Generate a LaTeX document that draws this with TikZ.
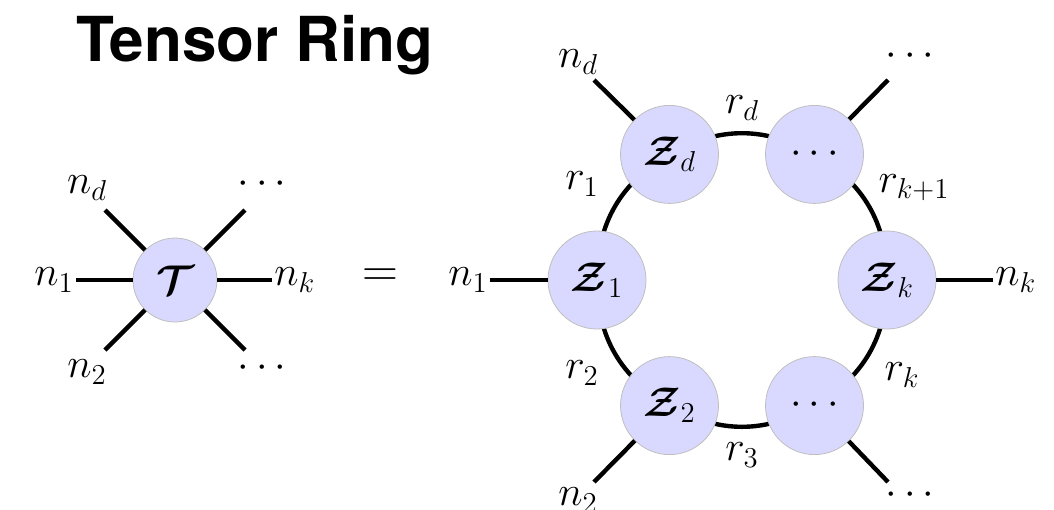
\documentclass[tikz,border=0pt]{standalone}
\usepackage{fontspec}
\usepackage{bm}
\newfontfamily\headfont{TeX Gyre Heros}
\usetikzlibrary{positioning, backgrounds}

\begin{document}
\begin{tikzpicture}[x=0.5pt, y=-0.5pt,
  core/.style={circle, draw=black!25, fill=blue!15, inner sep=0pt,
               minimum size=49pt, font=\fontsize{21}{24}\selectfont},
  bigcore/.style={core, minimum size=42pt},
  leg/.style={line width=2.2pt},
  lab/.style={inner sep=1pt, font=\fontsize{20}{24}\selectfont}
]
\useasboundingbox (0,0) rectangle (1054,509);

\node[font=\headfont\bfseries\fontsize{31}{36}\selectfont] (title) at (255,45) {Tensor Ring};

% left tensor
\node[bigcore] (T) at (175,280) {$\bm{\mathcal{T}}$};
\node[lab, anchor=east] (tn1) at (76,280) {$n_1$};
\node[lab, anchor=west] (tnk) at (272,280) {$n_k$};
\node[lab] (tnd) at (87,188) {$n_d$};
\node[lab] (tn2) at (87,372) {$n_2$};
\node[lab] (tdu) at (262,184) {$\cdots$};
\node[lab] (tdl) at (262,368) {$\cdots$};
\coordinate (tul) at (105,210);
\coordinate (tur) at (245,210);
\coordinate (tll) at (105,350);
\coordinate (tlr) at (245,350);
\draw[leg] (T) -- (tn1);
\draw[leg] (T) -- (tnk);
\draw[leg] (T) -- (tul);
\draw[leg] (T) -- (tur);
\draw[leg] (T) -- (tll);
\draw[leg] (T) -- (tlr);

\node[lab, font=\fontsize{26}{30}\selectfont] (eq) at (380,278) {$=$};

% ring
\node[core] (Z1) at (597,280) {$\bm{\mathcal{Z}}_1$};
\node[core] (Zd) at (669.5,154.4) {$\bm{\mathcal{Z}}_d$};
\node[core] (Zt) at (814.5,154.4) {$\cdots$};
\node[core] (Zk) at (887,280) {$\bm{\mathcal{Z}}_k$};
\node[core] (Zb) at (814.5,405.6) {$\cdots$};
\node[core] (Z2) at (669.5,405.6) {$\bm{\mathcal{Z}}_2$};

\begin{scope}[on background layer]
\draw[leg] (Z1.center) to[bend left=30] (Zd.center);
\draw[leg] (Zd.center) to[bend left=30] (Zt.center);
\draw[leg] (Zt.center) to[bend left=30] (Zk.center);
\draw[leg] (Zk.center) to[bend left=30] (Zb.center);
\draw[leg] (Zb.center) to[bend left=30] (Z2.center);
\draw[leg] (Z2.center) to[bend left=30] (Z1.center);
\end{scope}

\node[lab] (r1) at (582,184) {$r_1$};
\node[lab] (rd) at (742,108) {$r_d$};
\node[lab] (rk1) at (914,188) {$r_{k+1}$};
\node[lab] (rk) at (902,375) {$r_k$};
\node[lab] (r3) at (742,455) {$r_3$};
\node[lab] (r2) at (582,373) {$r_2$};

\node[lab, anchor=east] (n1) at (490,280) {$n_1$};
\node[lab, anchor=west] (nk) at (993,280) {$n_k$};
\node[lab] (nd) at (578,62) {$n_d$};
\node[lab] (n2) at (578,500) {$n_2$};
\node[lab] (du) at (910,56) {$\cdots$};
\node[lab] (dl) at (910,495) {$\cdots$};
\coordinate (zul) at (594,80);
\coordinate (zur) at (888,80);
\coordinate (zll) at (594,482);
\coordinate (zlr) at (888,482);
\draw[leg] (Z1) -- (n1);
\draw[leg] (Zk) -- (nk);
\draw[leg] (Zd) -- (zul);
\draw[leg] (Zt) -- (zur);
\draw[leg] (Z2) -- (zll);
\draw[leg] (Zb) -- (zlr);
\end{tikzpicture}
\end{document}
